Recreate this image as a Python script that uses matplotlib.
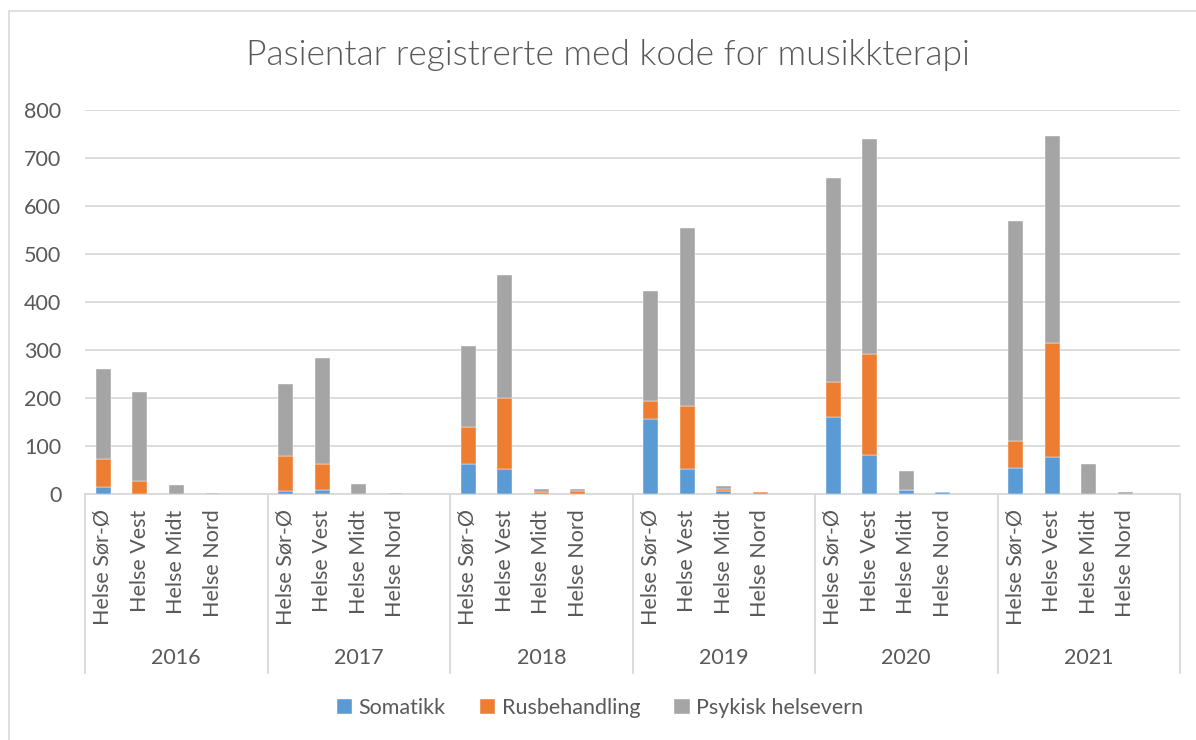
import matplotlib
matplotlib.use("Agg")
import matplotlib.pyplot as plt
from matplotlib.patches import Rectangle
from matplotlib.lines import Line2D
import matplotlib.transforms as mtrans
import numpy as np

years = ["2016", "2017", "2018", "2019", "2020", "2021"]
regions = ["Helse Sør-Ø", "Helse Vest", "Helse Midt", "Helse Nord"]
series_names = ["Somatikk", "Rusbehandling", "Psykisk helsevern"]

# values per year, in region order
somatikk = [
    [14, 0, 0, 0],
    [6, 9, 0, 0],
    [62, 52, 1, 1],
    [156, 52, 6, 0],
    [161, 81, 8, 4],
    [54, 78, 0, 0],
]
rusbehandling = [
    [58, 28, 0, 0],
    [74, 53, 0, 1],
    [77, 149, 4, 5],
    [38, 131, 5, 4],
    [73, 211, 0, 0],
    [57, 237, 0, 0],
]
psykisk = [
    [188, 185, 19, 2],
    [150, 221, 21, 2],
    [170, 255, 6, 4],
    [229, 371, 6, 0],
    [424, 448, 40, 0],
    [458, 431, 62, 4],
]

colors = ["#5B9BD5", "#ED7D31", "#A5A5A5"]
text_color = "#595959"
grid_color = "#D9D9D9"
font = ["Lato", "DejaVu Sans"]
plt.rcParams["font.family"] = font

W, H = 1196, 740
fig = plt.figure(figsize=(W / 100, H / 100), dpi=100)

# chart border
fig.patches.append(Rectangle((9 / W, 1 - 745 / H), (1200 - 9) / W, (745 - 11) / H,
                             transform=fig.transFigure, fill=False,
                             edgecolor=grid_color, linewidth=1.2))

left, right, top, bottom = 85, 1180, 110, 494
ax = fig.add_axes([left / W, 1 - bottom / H, (right - left) / W, (bottom - top) / H])

slots = 5
positions = []
for gi in range(len(years)):
    for ri in range(len(regions)):
        positions.append(gi * slots + ri)
positions = np.array(positions)

s = np.array(somatikk).ravel()
r = np.array(rusbehandling).ravel()
p = np.array(psykisk).ravel()

bw = 0.4
ax.bar(positions, s, width=bw, color=colors[0], label=series_names[0], zorder=3,
       edgecolor="white", linewidth=0.3)
ax.bar(positions, r, width=bw, bottom=s, color=colors[1], label=series_names[1], zorder=3,
       edgecolor="white", linewidth=0.3)
ax.bar(positions, p, width=bw, bottom=s + r, color=colors[2], label=series_names[2], zorder=3,
       edgecolor="white", linewidth=0.3)

ax.set_xlim(-0.5, len(years) * slots - 0.5)
ax.set_ylim(0, 800)
ax.set_yticks(range(0, 801, 100))
ax.yaxis.grid(True, color=grid_color, linewidth=1.3)
ax.set_axisbelow(True)
for sp in ["top", "right", "left"]:
    ax.spines[sp].set_visible(False)
ax.spines["bottom"].set_color(grid_color)
ax.spines["bottom"].set_linewidth(1.3)
ax.tick_params(axis="y", length=0, pad=17, labelsize=15.5, labelcolor=text_color)
ax.set_xticks(positions)
ax.set_xticklabels(regions * len(years), rotation=90)
ax.tick_params(axis="x", length=0, pad=11, labelsize=15.5, labelcolor=text_color)

axh = bottom - top
trans = mtrans.blended_transform_factory(ax.transData, ax.transAxes)
for gi in range(len(years) + 1):
    x = gi * slots - 0.5
    ax.add_line(Line2D([x, x], [0, -(673 - bottom) / axh], transform=trans,
                       color=grid_color, linewidth=1.3, clip_on=False))
for gi, yr in enumerate(years):
    ax.text(gi * slots + 2, -(658 - bottom) / axh, yr, transform=trans,
            ha="center", va="center", fontsize=15.5, color=text_color)

fig.text(608 / W, 1 - 55 / H, "Pasientar registrerte med kode for musikkterapi",
         ha="center", va="center", fontsize=25.5, color=text_color, fontweight=300)

fig.legend(loc="center", bbox_to_anchor=(600 / W, 1 - 708 / H), ncol=3, frameon=False,
           fontsize=15.5, labelcolor=text_color, handlelength=0.7, handleheight=0.7,
           handletextpad=0.3, columnspacing=1.6)

fig.savefig("out.png", dpi=100)
